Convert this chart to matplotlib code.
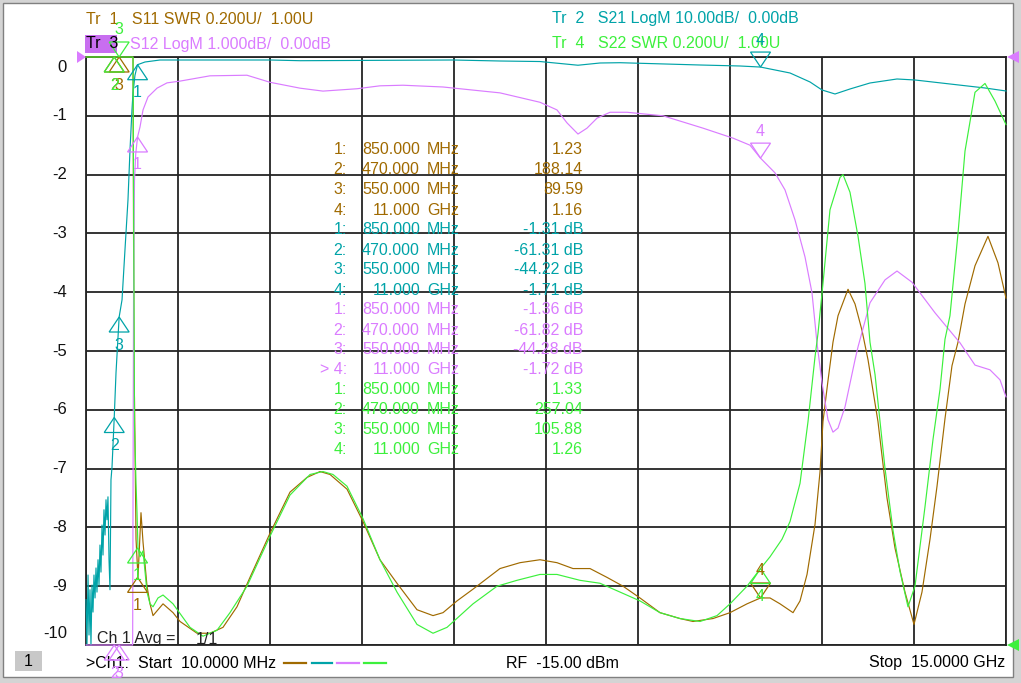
import numpy as np
import matplotlib
matplotlib.use("Agg")
import matplotlib.pyplot as plt
from matplotlib.patches import Polygon, Rectangle
from matplotlib.lines import Line2D

plt.rcParams['font.family'] = ['Liberation Sans', 'DejaVu Sans']

# ---------------- data ----------------
f_start, f_stop = 0.01, 15.0  # GHz

# Tr1: S11 SWR (0.200 U/div, ref 1.00 U at bottom)
s11_f = [0.01, 0.2, 0.35, 0.47, 0.55, 0.65, 0.73, 0.776, 0.792, 0.80,
         0.825, 0.857, 0.882, 0.906, 0.939, 1.004, 1.053, 1.102, 1.183, 1.265,
         1.428, 1.542, 1.819, 2.030, 2.242, 2.470, 2.682, 3.008, 3.334, 3.611,
         3.823, 3.986, 4.263, 4.523, 4.800, 5.077, 5.403, 5.664, 5.827, 6.055,
         6.316, 6.755, 7.081, 7.407, 7.684, 7.945, 8.222, 8.499, 8.760, 9.036,
         9.362, 9.688, 9.900, 10.226, 10.503, 10.780, 11.0, 11.155, 11.318, 11.530,
         11.644, 11.758, 11.888, 11.970, 12.018, 12.100, 12.181, 12.263, 12.426, 12.540,
         12.654, 12.752, 12.914, 13.061, 13.191, 13.354, 13.501, 13.631, 13.762, 13.876,
         14.006, 14.120, 14.218, 14.332, 14.495, 14.706, 14.869, 15.0]
s11_swr = [350, 300, 240, 188.14, 89.59, 40, 12, 3.2, 1.9, 1.84,
           1.36, 1.23, 1.34, 1.45, 1.35, 1.20, 1.14, 1.10, 1.12, 1.14,
           1.11, 1.08, 1.04, 1.04, 1.06, 1.13, 1.23, 1.38, 1.52, 1.57,
           1.59, 1.58, 1.53, 1.42, 1.29, 1.21, 1.12, 1.10, 1.11, 1.15,
           1.19, 1.26, 1.28, 1.29, 1.28, 1.26, 1.26, 1.23, 1.20, 1.16,
           1.11, 1.09, 1.08, 1.09, 1.11, 1.14, 1.16, 1.16, 1.14, 1.11,
           1.15, 1.24, 1.41, 1.59, 1.76, 1.90, 2.03, 2.12, 2.21, 2.16,
           2.07, 1.97, 1.76, 1.50, 1.33, 1.18, 1.07, 1.18, 1.36, 1.54,
           1.77, 1.95, 2.03, 2.16, 2.29, 2.39, 2.30, 2.18]

# Tr2: S21 LogM (10 dB/div, ref 0 dB at top)
s21_f = [0.01, 0.026, 0.043, 0.059, 0.075, 0.091, 0.108, 0.124, 0.140, 0.157,
         0.173, 0.189, 0.206, 0.222, 0.238, 0.254, 0.271, 0.287, 0.303, 0.320,
         0.336, 0.352, 0.368, 0.385, 0.401, 0.417, 0.434, 0.47, 0.499, 0.55,
         0.597, 0.645, 0.694, 0.727, 0.759, 0.776, 0.808, 0.85, 0.971, 1.216,
         3.008, 3.497, 5.990, 6.755, 7.407, 8.026, 8.385, 8.711, 10.015, 10.666,
         11.0, 11.481, 11.807, 12.002, 12.214, 12.458, 12.784, 13.224, 13.517, 14.087,
         14.658, 15.0]
s21_db = [-92.3, -102, -88.1, -98.3, -90.6, -101, -89.8, -94.4, -88.1, -92.0,
          -86.9, -91.0, -85.5, -89.8, -83.0, -87.6, -79.6, -84.7, -77.0, -81.3,
          -75.3, -78.7, -74.8, -85.5, -90.6, -71.9, -69.7, -61.31, -53.7, -44.22,
          -41.3, -32.8, -24.3, -15.8, -9.0, -6.1, -3.1, -1.31, -0.85, -0.51,
          -0.51, -0.63, -0.51, -0.68, -0.77, -1.40, -1.02, -0.97, -1.36, -1.53,
          -1.71, -2.72, -4.25, -5.61, -6.29, -5.44, -4.42, -3.74, -3.91, -4.59,
          -5.27, -5.78]

# Tr3: S12 LogM (1 dB/div, ref 0 dB at top)
s12_f = [0.01, 0.1, 0.2, 0.3, 0.4, 0.47, 0.55, 0.65, 0.745, 0.77,
         0.785, 0.80, 0.82, 0.85, 0.89, 0.939, 1.020, 1.167, 1.330, 1.542,
         2.030, 2.633, 3.008, 3.497, 3.871, 4.425, 4.800, 5.175, 5.827, 6.104,
         6.755, 7.407, 7.684, 7.847, 8.026, 8.173, 8.336, 8.548, 8.825, 9.411,
         10.063, 10.552, 10.829, 11.0, 11.236, 11.399, 11.562, 11.725, 11.839, 11.920,
         12.002, 12.100, 12.181, 12.263, 12.377, 12.540, 12.589, 12.784, 13.029, 13.224,
         13.468, 13.843, 14.169, 14.250, 14.495, 14.739, 14.902, 15.0]
s12_db = [-85, -80, -76, -72, -67, -61.82, -44.28, -35, -25, -10.3,
          -4.0, -2.1, -1.65, -1.36, -1.19, -0.90, -0.68, -0.53, -0.44, -0.41,
          -0.32, -0.31, -0.43, -0.53, -0.58, -0.54, -0.49, -0.48, -0.51, -0.54,
          -0.61, -0.77, -0.90, -1.12, -1.31, -1.21, -1.04, -0.94, -0.94, -1.00,
          -1.21, -1.38, -1.50, -1.72, -1.97, -2.26, -2.77, -3.40, -4.01, -4.86,
          -5.54, -6.17, -6.38, -6.31, -5.95, -5.15, -4.93, -4.18, -3.79, -3.64,
          -3.83, -4.35, -4.76, -4.86, -5.24, -5.32, -5.49, -5.78]

# Tr4: S22 SWR (0.200 U/div, ref 1.00 U at bottom)
s22_f = [0.01, 0.2, 0.35, 0.47, 0.55, 0.65, 0.73, 0.776, 0.80, 0.825,
         0.841, 0.857, 0.890, 0.939, 1.004, 1.053, 1.102, 1.183, 1.265, 1.428,
         1.705, 1.916, 2.144, 2.356, 2.633, 3.008, 3.334, 3.660, 3.871, 4.034,
         4.263, 4.523, 4.800, 5.077, 5.403, 5.664, 5.892, 6.104, 6.316, 6.707,
         7.032, 7.407, 7.684, 8.059, 8.385, 8.711, 9.036, 9.362, 9.688, 10.015,
         10.292, 10.503, 10.780, 11.0, 11.155, 11.351, 11.481, 11.644, 11.774, 11.888,
         11.937, 12.018, 12.132, 12.295, 12.344, 12.458, 12.589, 12.702, 12.784, 12.866,
         13.029, 13.159, 13.273, 13.403, 13.517, 13.680, 13.811, 13.925, 14.006, 14.087,
         14.218, 14.332, 14.495, 14.658, 14.821, 15.0]
s22_swr = [400, 350, 300, 257.04, 105.88, 45, 14, 3.3, 1.75, 1.55,
           1.45, 1.33, 1.30, 1.32, 1.18, 1.14, 1.13, 1.16, 1.17, 1.14,
           1.06, 1.03, 1.05, 1.11, 1.20, 1.37, 1.51, 1.58, 1.59, 1.58,
           1.54, 1.43, 1.29, 1.18, 1.07, 1.04, 1.06, 1.10, 1.14, 1.20,
           1.22, 1.24, 1.24, 1.22, 1.21, 1.18, 1.15, 1.11, 1.09, 1.08,
           1.10, 1.14, 1.20, 1.26, 1.30, 1.36, 1.42, 1.55, 1.76, 1.98,
           2.06, 2.23, 2.48, 2.59, 2.60, 2.54, 2.39, 2.23, 2.03, 1.92,
           1.60, 1.39, 1.25, 1.13, 1.20, 1.47, 1.70, 1.87, 2.04, 2.12,
           2.40, 2.68, 2.88, 2.91, 2.85, 2.77]

# markers
mk_freq = [0.85, 0.47, 0.55, 11.0]
mk_freq_text = ["850.000", "470.000", "550.000", "11.000"]
mk_unit = ["MHz", "MHz", "MHz", "GHz"]
s11_mk = [1.23, 188.14, 89.59, 1.16]
s21_mk = [-1.31, -61.31, -44.22, -1.71]
s12_mk = [-1.36, -61.82, -44.28, -1.72]
s22_mk = [1.33, 257.04, 105.88, 1.26]

y_tick_values = list(range(0, -11, -1))

# ---------------- style ----------------
W, H, DPI = 1021, 683, 100
BROWN = '#a06a00'
TEAL = '#00a3a8'
PINK = '#da7cff'
GREEN = '#3cf03c'
GRIDC = '#242424'
FS = 11.5


def swr_div(v):
    return np.clip(-10 + (np.asarray(v, float) - 1.0) / 0.2, -10, 0)


def db10_div(v):
    return np.clip(np.asarray(v, float) / 10.0, -10, 0)


def db1_div(v):
    return np.clip(np.asarray(v, float) / 1.0, -10, 0)


def fx(x):
    return x / W


def fy(y):
    return 1 - y / H


fig = plt.figure(figsize=(W / DPI, H / DPI), dpi=DPI)
fig.patch.set_facecolor('#d4d4d4')
fig.add_artist(Rectangle((fx(3), fy(677)), 1010 / W, 674 / H, transform=fig.transFigure,
                         facecolor='white', edgecolor='#808080', lw=1.0, zorder=0))

ax = fig.add_axes([86 / W, 1 - 645 / H, 920 / W, 588 / H])
ax.set_facecolor('white')
ax.set_xlim(f_start, f_stop)
ax.set_ylim(-10, 0)
ax.set_xticks(np.linspace(f_start, f_stop, 11))
ax.set_yticks(y_tick_values)
ax.grid(True, color=GRIDC, lw=1.3)
ax.set_axisbelow(True)
ax.tick_params(length=0, labelbottom=False, labelleft=False)
for s in ax.spines.values():
    s.set_color(GRIDC)
    s.set_linewidth(1.3)

traces = [
    (s11_f, swr_div(s11_swr), BROWN),
    (s21_f, db10_div(s21_db), TEAL),
    (s12_f, db1_div(s12_db), PINK),
    (s22_f, swr_div(s22_swr), GREEN),
]
for f, d, c in traces:
    ax.plot(f, d, color=c, lw=0.85, clip_on=False, zorder=3)

# y labels
for v in y_tick_values:
    dy = 0
    if v == 0:
        dy = -10
    elif v == -10:
        dy = 11
    ax.annotate(str(v), xy=(0, v), xycoords=('axes fraction', 'data'),
                xytext=(-19, dy), textcoords='offset pixels', ha='right', va='center',
                fontsize=12, color='#111111')

fig.canvas.draw()


def draw_marker(f, yd, color, label, up=True):
    xd, ydp = ax.transData.transform((f, yd))
    w, h = 10, 15
    if up:
        pts = [(xd, ydp), (xd - w, ydp - h), (xd + w, ydp - h)]
        ly = ydp - 28
    else:
        pts = [(xd, ydp), (xd - w, ydp + h), (xd + w, ydp + h)]
        ly = ydp + 27
    pts = [(px / W, py / H) for px, py in pts]
    fig.add_artist(Polygon(pts, closed=True, fill=False, edgecolor=color, lw=0.9,
                           transform=fig.transFigure, zorder=5))
    fig.text(xd / W, ly / H, label, color=color, ha='center', va='center', fontsize=FS, zorder=5)


marker_sets = [
    (s11_mk, swr_div, BROWN, [True, True, True, False]),
    (s21_mk, db10_div, TEAL, [True, True, True, False]),
    (s12_mk, db1_div, PINK, [True, True, True, False]),
    (s22_mk, swr_div, GREEN, [True, True, False, True]),
]
for vals, conv, c, ups in marker_sets:
    for i, (f, v) in enumerate(zip(mk_freq, vals)):
        draw_marker(f, float(conv(v)), c, str(i + 1), ups[i])

# header
fig.text(fx(86), fy(19), "Tr  1   S11 SWR 0.200U/  1.00U", color=BROWN, fontsize=FS, va='center')
fig.text(fx(552), fy(19), "Tr  2   S21 LogM 10.00dB/  0.00dB", color=TEAL, fontsize=FS, va='center')
fig.text(fx(552), fy(44), "Tr  4   S22 SWR 0.200U/  1.00U", color=GREEN, fontsize=FS, va='center')
fig.add_artist(Rectangle((fx(85), fy(53)), 32 / W, 18 / H, transform=fig.transFigure,
                         facecolor='#c86ef0', edgecolor='none', zorder=4))
fig.text(fx(86), fy(44), "Tr  3", color='black', fontsize=FS, va='center', zorder=6)
fig.text(fx(130), fy(44), "S12 LogM 1.000dB/  0.00dB", color=PINK, fontsize=FS, va='center')

# reference position arrows
for pts, c in [([(77, 51), (77, 63), (86, 57)], PINK),
               ([(1019, 51), (1019, 63), (1007, 57)], PINK),
               ([(1019, 639), (1019, 651), (1007, 645)], GREEN)]:
    fig.add_artist(Polygon([(fx(a), fy(b)) for a, b in pts], closed=True, facecolor=c,
                           edgecolor='none', transform=fig.transFigure, zorder=6))

# marker table
row_y = 150
for ti, (vals, c, unit) in enumerate([(s11_mk, BROWN, ''), (s21_mk, TEAL, ' dB'),
                                      (s12_mk, PINK, ' dB'), (s22_mk, GREEN, '')]):
    for i in range(4):
        num = f"{i + 1}:"
        if ti == 2 and i == 3:
            num = "> 4:"
        fig.text(fx(347), fy(row_y), num, color=c, fontsize=FS, ha='right', va='center', zorder=6)
        fig.text(fx(420), fy(row_y), mk_freq_text[i], color=c, fontsize=FS, ha='right', va='center', zorder=6)
        fig.text(fx(427), fy(row_y), mk_unit[i], color=c, fontsize=FS, ha='left', va='center', zorder=6)
        fig.text(fx(583), fy(row_y), f"{vals[i]:.2f}{unit}", color=c, fontsize=FS, ha='right', va='center', zorder=6)
        row_y += 20

# bottom info
fig.text(fx(97), fy(639), "Ch 1 Avg =", color='#222222', fontsize=FS, va='center', zorder=6)
fig.text(fx(196), fy(639), "1/1", color='#222222', fontsize=FS, va='center', zorder=6)
fig.add_artist(Rectangle((fx(15), fy(671)), 27 / W, 20 / H, transform=fig.transFigure,
                         facecolor='#c8c8c8', edgecolor='none'))
fig.text(fx(28.5), fy(661), "1", color='black', fontsize=FS, ha='center', va='center')
fig.text(fx(86), fy(663), ">Ch1:  Start  10.0000 MHz", color='black', fontsize=FS, va='center')
for x0, x1, c in [(284, 306, BROWN), (312, 332, TEAL), (337, 359, PINK), (364, 386, GREEN)]:
    fig.add_artist(Line2D([fx(x0), fx(x1)], [fy(663), fy(663)], color=c, lw=1.6,
                          transform=fig.transFigure))
fig.text(fx(506), fy(663), "RF  -15.00 dBm", color='black', fontsize=FS, va='center')
fig.text(fx(1005), fy(663), "Stop  15.0000 GHz", color='black', fontsize=FS, ha='right', va='center')

fig.savefig("out.png", dpi=DPI, facecolor=fig.get_facecolor())
